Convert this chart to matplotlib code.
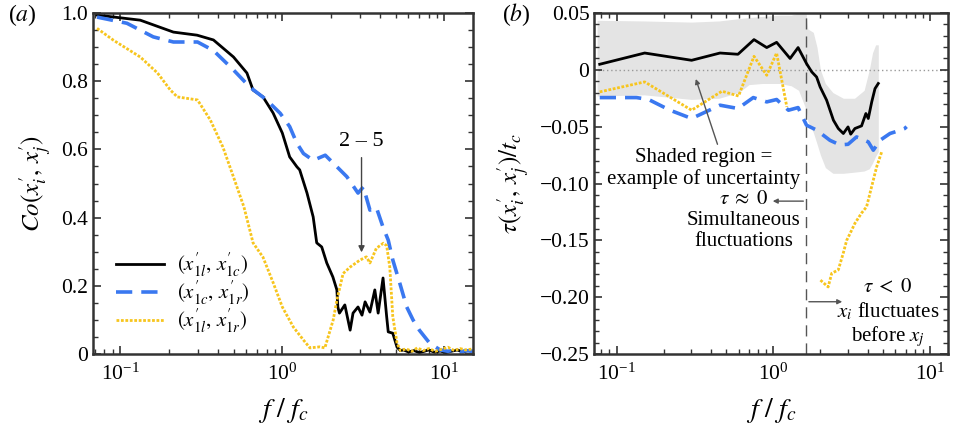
import numpy as np
import matplotlib
matplotlib.use("Agg")
import matplotlib.pyplot as plt
from matplotlib.ticker import LogLocator, MultipleLocator, FuncFormatter, NullFormatter

plt.rcParams['font.family'] = ['Liberation Serif', 'DejaVu Serif']
plt.rcParams['mathtext.fontset'] = 'stix'

# ---------------- Panel (a): coherence ----------------
f_black_a = [0.072, 0.133, 0.213, 0.298, 0.376, 0.5, 0.605, 0.66, 0.76, 0.877, 1.0, 1.11, 1.23,
             1.28, 1.42, 1.55, 1.63, 1.75, 1.88, 2.05, 2.17, 2.2, 2.25, 2.43, 2.62, 2.73, 2.93,
             3.1, 3.24, 3.47, 3.72, 3.9, 4.18, 4.4, 4.5, 4.8, 5.1, 5.35, 5.6, 6.0, 6.5, 7.0,
             7.5, 8.0, 8.7, 9.4, 10.2, 11.0, 12.0, 13.0, 14.0, 15.0]
co_black = [0.994, 0.979, 0.944, 0.935, 0.921, 0.871, 0.824, 0.774, 0.754, 0.707, 0.648, 0.578,
            0.549, 0.54, 0.472, 0.402, 0.326, 0.314, 0.267, 0.226, 0.188, 0.138, 0.12, 0.144,
            0.07, 0.12, 0.138, 0.114, 0.153, 0.123, 0.188, 0.12, 0.223, 0.11, 0.065, 0.061,
            0.02, 0.01, 0.012, 0.006, 0.01, 0.004, 0.008, 0.012, 0.005, 0.009, 0.004, 0.008,
            0.012, 0.006, 0.01, 0.007]

f_blue_a = [0.072, 0.11, 0.16, 0.213, 0.3, 0.376, 0.5, 0.63, 0.8, 0.97, 1.11, 1.23, 1.35, 1.55,
            1.84, 2.06, 2.5, 2.93, 3.16, 3.47, 3.8, 4.18, 4.5, 4.8, 5.3, 5.85, 6.4, 7.0, 8.1,
            9.4, 10.5, 11.5, 12.5, 13.5, 15.0]
co_blue = [0.988, 0.97, 0.93, 0.915, 0.915, 0.89, 0.833, 0.783, 0.745, 0.706, 0.667, 0.618,
           0.588, 0.568, 0.583, 0.56, 0.52, 0.472, 0.49, 0.422, 0.43, 0.372, 0.334, 0.276,
           0.208, 0.138, 0.1, 0.07, 0.032, 0.012, 0.008, 0.012, 0.006, 0.01, 0.008]

f_yellow_a = [0.072, 0.091, 0.133, 0.17, 0.204, 0.225, 0.3, 0.36, 0.43, 0.5, 0.58, 0.66, 0.76,
              0.88, 1.0, 1.17, 1.35, 1.48, 1.7, 1.83, 2.06, 2.17, 2.37, 2.62, 3.0, 3.3, 3.47,
              3.8, 4.2, 4.4, 4.6, 4.8, 5.1, 5.35, 5.8, 6.3, 6.8, 7.4, 8.0, 8.8, 9.6, 10.5,
              11.5, 12.5, 13.5, 15.0]
co_yellow = [0.955, 0.92, 0.871, 0.824, 0.774, 0.754, 0.745, 0.686, 0.607, 0.519, 0.431, 0.326,
             0.284, 0.208, 0.138, 0.079, 0.041, 0.018, 0.021, 0.018, 0.1, 0.158, 0.236, 0.255,
             0.275, 0.285, 0.267, 0.31, 0.325, 0.318, 0.255, 0.11, 0.032, 0.01, 0.015, 0.008,
             0.018, 0.01, 0.016, 0.008, 0.014, 0.02, 0.01, 0.016, 0.012, 0.015]

# ---------------- Panel (b): time lag ----------------
f_black_b = [0.078, 0.151, 0.301, 0.457, 0.595, 0.753, 0.908, 1.05, 1.28, 1.44, 1.63, 1.76,
             1.89, 1.99, 2.19, 2.42, 2.6, 2.8, 3.0, 3.12, 3.32, 3.66, 3.9, 4.04, 4.25, 4.46, 4.68]
tau_black = [0.0049, 0.0148, 0.0084, 0.0148, 0.0137, 0.0266, 0.0196, 0.0242, 0.010, 0.0196,
             0.0055, -0.0018, -0.0063, -0.015, -0.0267, -0.0443, -0.0516, -0.056, -0.0502,
             -0.0566, -0.0516, -0.0493, -0.0384, -0.0428, -0.0282, -0.0165, -0.012]

f_blue_b = [0.078, 0.134, 0.16, 0.219, 0.301, 0.457, 0.595, 0.745, 0.908, 1.05, 1.25, 1.44,
            1.63, 1.89, 2.3, 2.66, 3.0, 3.4, 4.04, 4.35, 4.8, 5.56, 6.27, 6.9, 7.1]
tau_blue = [-0.0244, -0.0244, -0.0261, -0.0355, -0.0428, -0.0311, -0.034, -0.0244, -0.0282,
            -0.0261, -0.0355, -0.0332, -0.0487, -0.053, -0.062, -0.066, -0.0655, -0.059,
            -0.0634, -0.0707, -0.062, -0.056, -0.0537, -0.0516, -0.050]

f_yellow_b1 = [0.078, 0.151, 0.301, 0.47, 0.6, 0.753, 0.908, 1.05, 1.22]
tau_yellow1 = [-0.0194, -0.0106, -0.0355, -0.0188, -0.023, 0.0119, -0.0048, 0.0148, -0.0326]
f_yellow_b2 = [2.0, 2.24, 2.36, 2.6, 2.8, 2.94, 3.09, 3.32, 3.66, 3.94, 4.24, 4.57, 4.92]
tau_yellow2 = [-0.185, -0.191, -0.179, -0.176, -0.161, -0.150, -0.144, -0.135, -0.126,
               -0.1205, -0.103, -0.0853, -0.0722]

shade_f = [0.075, 0.15, 0.3, 0.45, 0.6, 0.7, 0.85, 1.1, 1.3, 1.45, 1.62, 1.66, 1.8, 1.9, 2.0,
           2.15, 2.4, 2.8, 3.3, 3.8, 4.1, 4.3, 4.5, 4.68]
shade_lo = [-0.023, -0.022, -0.026, -0.025, -0.02, -0.013, -0.012, -0.012, -0.014, -0.018,
            -0.035, -0.045, -0.055, -0.065, -0.075, -0.086, -0.091, -0.091, -0.09, -0.089,
            -0.087, -0.082, -0.076, -0.072]
shade_hi = [0.0436, 0.043, 0.042, 0.043, 0.045, 0.046, 0.047, 0.048, 0.048, 0.05, 0.05, 0.036,
            0.033, 0.02, 0.0, -0.012, -0.02, -0.025, -0.025, -0.018, 0.0, 0.015, 0.022, 0.022]

BLACK = '#000000'
BLUE = '#3a78f0'
YELLOW = '#f7c51e'

fig = plt.figure(figsize=(9.55, 4.25), dpi=100)
axa = fig.add_axes([0.0974, 0.167, 0.3979, 0.8024])
axb = fig.add_axes([0.6223, 0.167, 0.3707, 0.8024])


def style(ax):
    ax.set_xscale('log')
    ax.xaxis.set_major_locator(LogLocator(base=10))
    ax.xaxis.set_minor_locator(LogLocator(base=10, subs=np.arange(2, 10)))
    ax.xaxis.set_minor_formatter(NullFormatter())
    ax.tick_params(which='both', direction='in', top=True, right=True, labelsize=15.5,
                   colors='#333333', labelcolor='black')
    ax.tick_params(which='major', length=6, width=1.2)
    ax.tick_params(which='minor', length=3.5, width=1.0)
    ax.tick_params(axis='x', pad=7)
    for s in ax.spines.values():
        s.set_linewidth(1.8)
        s.set_color('#333333')


P = r'^{\prime}'

# Panel (a)
style(axa)
axa.plot(f_black_a, co_black, color=BLACK, lw=2.0, label=rf"$(x{P}_{{1l}},\, x{P}_{{1c}})$")
axa.plot(f_blue_a, co_blue, color=BLUE, lw=2.6, ls=(0, (4.5, 2.5)), label=rf"$(x{P}_{{1c}},\, x{P}_{{1r}})$")
axa.plot(f_yellow_a, co_yellow, color=YELLOW, lw=2.0, ls=(0, (1, 0.6)), label=rf"$(x{P}_{{1l}},\, x{P}_{{1r}})$")
axa.set_xlim(0.068, 15.0)
axa.set_ylim(0, 1.0)
axa.yaxis.set_major_locator(MultipleLocator(0.2))
axa.yaxis.set_minor_locator(MultipleLocator(0.05))
axa.yaxis.set_major_formatter(FuncFormatter(lambda v, p: '0' if abs(v) < 1e-9 else f'{v:.1f}'))
axa.set_xlabel(r"$f\ /\ f_c$", fontsize=20, labelpad=8)
axa.set_ylabel(rf"$Co(x{P}_i,\, x{P}_j)$", fontsize=18, labelpad=6)
axa.annotate('', xy=(3.08, 0.29), xytext=(3.08, 0.584),
             arrowprops=dict(arrowstyle='-|>', color='#444444', lw=1.0, mutation_scale=9))
axa.text(3.08, 0.623, '2 – 5', ha='center', va='center', fontsize=16)
leg = axa.legend(loc='lower left', bbox_to_anchor=(0.012, 0.0), frameon=False, fontsize=15,
                 handlelength=2.3, handletextpad=0.6, labelspacing=0.05)

# Panel (b)
style(axb)
axb.fill_between(shade_f, shade_lo, shade_hi, color='#e4e4e4', lw=0, zorder=0)
axb.axhline(0, color='#999999', lw=1.0, ls=(0, (1, 2)), zorder=1)
axb.axvline(1.62, color='#555555', lw=1.0, ls=(0, (8, 5)), zorder=1)
axb.plot(f_black_b, tau_black, color=BLACK, lw=2.0, zorder=3)
axb.plot(f_blue_b, tau_blue, color=BLUE, lw=2.6, ls=(0, (4.5, 2.5)), zorder=3)
axb.plot(f_yellow_b1, tau_yellow1, color=YELLOW, lw=2.0, ls=(0, (1, 0.6)), zorder=3)
axb.plot(f_yellow_b2, tau_yellow2, color=YELLOW, lw=2.0, ls=(0, (1, 0.6)), zorder=3)
axb.set_xlim(0.072, 13.1)
axb.set_ylim(-0.25, 0.05)
axb.yaxis.set_major_locator(MultipleLocator(0.05))
axb.yaxis.set_minor_locator(MultipleLocator(0.01))
axb.yaxis.set_major_formatter(FuncFormatter(
    lambda v, p: '0' if abs(v) < 1e-9 else f'{v:.2f}'.replace('-', '\u2212')))
axb.set_xlabel(r"$f\ /\ f_c$", fontsize=20, labelpad=8)
axb.set_ylabel(rf"$\tau(x{P}_i,\, x{P}_j)/t_c$", fontsize=18, labelpad=6)

axb.annotate('', xy=(0.316, -0.0057), xytext=(0.446, -0.0678),
             arrowprops=dict(arrowstyle='-|>', color='#555555', lw=1.0, mutation_scale=7))
axb.text(0.361, -0.0865, 'Shaded region =\nexample of uncertainty', ha='center', va='center',
         fontsize=15, linespacing=1.15)
axb.annotate('', xy=(0.952, -0.1155), xytext=(1.62, -0.1155),
             arrowprops=dict(arrowstyle='-|>', color='#555555', lw=1.0, mutation_scale=7))
axb.text(0.648, -0.1325, '$\\tau\\;\\approx\\;0$\nSimultaneous\nfluctuations', ha='center', va='center',
         fontsize=15, linespacing=1.15)
axb.annotate('', xy=(2.87, -0.204), xytext=(1.62, -0.204),
             arrowprops=dict(arrowstyle='-|>', color='#555555', lw=1.0, mutation_scale=7))
axb.text(5.38, -0.2148, '$\\tau\\;<\\;0$\n$x_i$ fluctuates\nbefore $x_j$', ha='center', va='center',
         fontsize=15, linespacing=1.15)

fig.text(0.008, 0.965, '($a$)', fontsize=17, ha='left', va='center')
fig.text(0.526, 0.965, '($b$)', fontsize=17, ha='left', va='center')

fig.savefig('out.png', dpi=100)
